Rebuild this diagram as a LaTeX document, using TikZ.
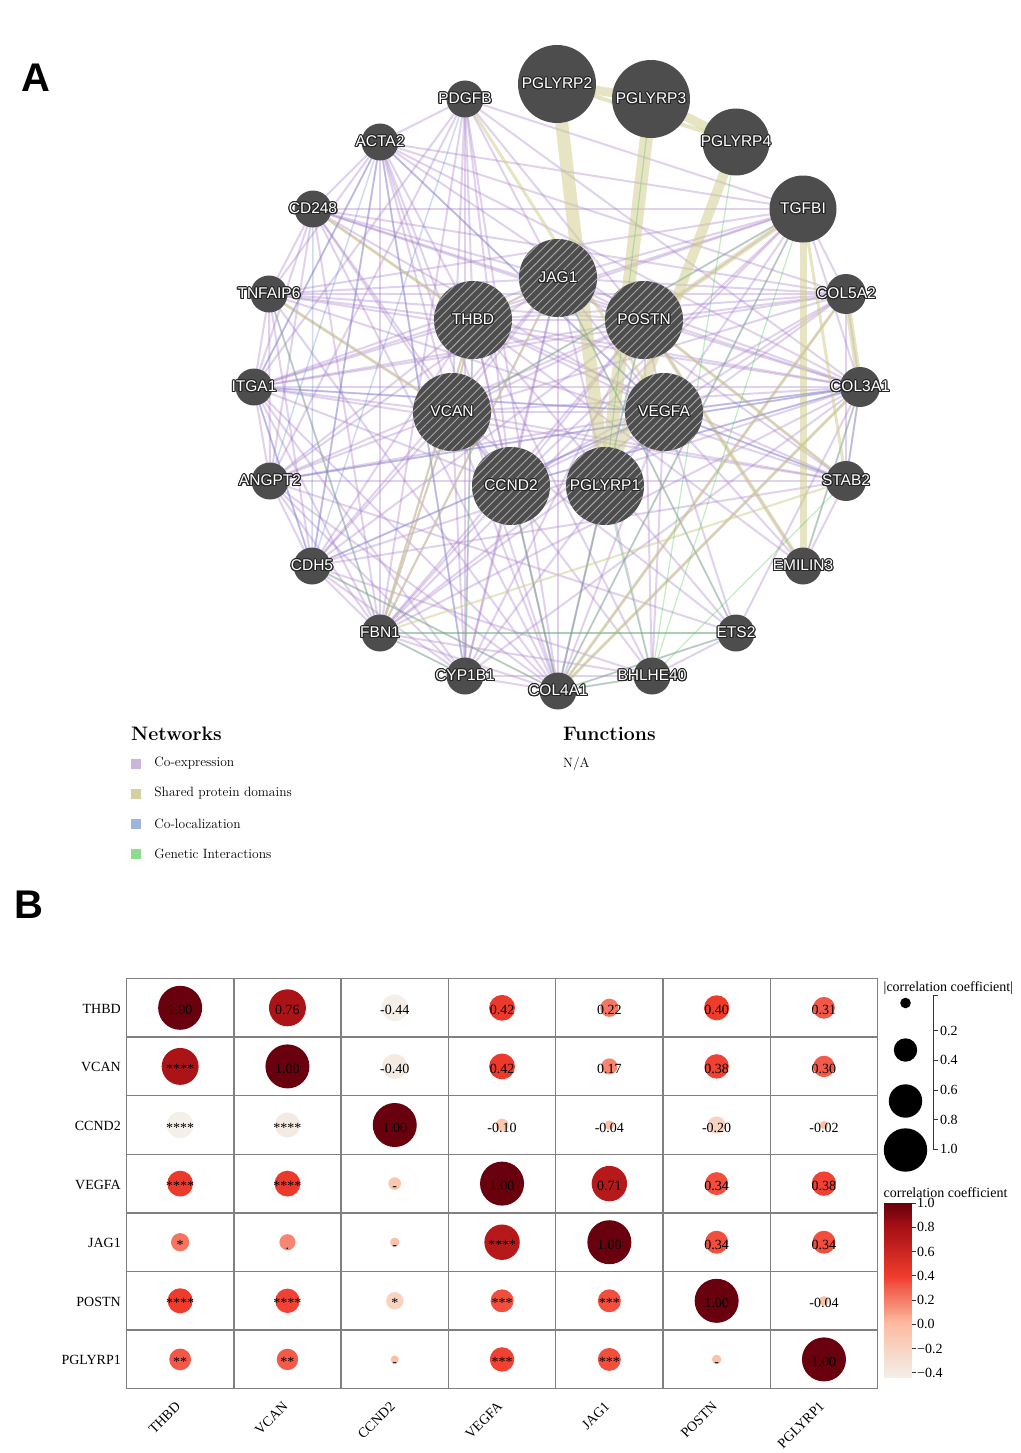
\documentclass[tikz,border=0pt]{standalone}
\usepackage{fontspec}
\usepackage{contour}
\usetikzlibrary{positioning,backgrounds,patterns.meta}
\newfontfamily\netfont{Liberation Sans}
\newfontfamily\corfont{Liberation Serif}
\definecolor{nodegray}{RGB}{77,77,77}
\definecolor{coexpc}{RGB}{165,125,200}
\definecolor{domainc}{RGB}{209,205,145}
\definecolor{colocc}{RGB}{100,130,205}
\definecolor{geneticc}{RGB}{80,200,80}
\definecolor{cCream}{RGB}{244,239,232}
\definecolor{cSalmon}{RGB}{252,187,161}
\definecolor{cRed}{RGB}{239,59,44}
\definecolor{cDark}{RGB}{165,15,21}
\definecolor{cDeep}{RGB}{103,0,13}
\contourlength{1.1pt}
\newcommand{\glabel}[1]{\contour{black!85}{#1}}
% colour of a correlation value, stored in cc
\newcommand{\setcorcolor}[1]{%
  \pgfmathsetmacro\cv{#1}%
  \ifdim\cv pt<0pt
    \pgfmathtruncatemacro\cp{100*(\cv+0.44)/0.44}\colorlet{cc}{cSalmon!\cp!cCream}%
  \else\ifdim\cv pt<0.4pt
    \pgfmathtruncatemacro\cp{100*\cv/0.4}\colorlet{cc}{cRed!\cp!cSalmon}%
  \else\ifdim\cv pt<0.8pt
    \pgfmathtruncatemacro\cp{100*(\cv-0.4)/0.4}\colorlet{cc}{cDark!\cp!cRed}%
  \else
    \pgfmathtruncatemacro\cp{100*(\cv-0.8)/0.2}\colorlet{cc}{cDeep!\cp!cDark}%
  \fi\fi\fi}

\begin{document}
\begin{tikzpicture}[x=1pt,y=-1pt]
    \tikzstyle{gene}=[circle,fill=nodegray,minimum size=37pt,inner sep=0pt]
    \tikzstyle{wide gene}=[gene,minimum size=40pt]
    \tikzstyle{mid gene}=[gene,minimum size=67pt]
    \tikzstyle{big gene}=[gene,minimum size=78pt]
    \tikzstyle{query gene}=[big gene,postaction={pattern={Lines[angle=45,distance=6pt,line width=0.9pt]},pattern color=gray!70}]
    \tikzstyle{gene label}=[text=white,inner sep=0pt,font=\netfont\fontsize{15.5}{16}\selectfont]
    \tikzstyle{coexp}=[draw=coexpc,line width=2pt,opacity=0.35]
    \tikzstyle{shared domain}=[draw=domainc,opacity=0.55]
    \tikzstyle{coloc}=[draw=colocc,line width=1.5pt,opacity=0.3]
    \tikzstyle{genetic}=[draw=geneticc,line width=1.2pt,opacity=0.35]
    \tikzstyle{legend box}=[minimum size=10pt,inner sep=0pt]
    \tikzstyle{legend text}=[inner sep=0pt,anchor=west,font=\fontsize{13.5}{15}\selectfont]
    \tikzstyle{legend head}=[inner sep=0pt,anchor=base west,font=\bfseries\fontsize{19.5}{22}\selectfont]
    \tikzstyle{cor text}=[inner sep=0pt,font=\corfont\fontsize{14}{16}\selectfont]
    \useasboundingbox (0,0) rectangle (1020,1453);

    % panel letters
    \node[font=\netfont\bfseries\fontsize{40}{40}\selectfont] (P_A) at (36,78) {A};
    \node[font=\netfont\bfseries\fontsize{40}{40}\selectfont] (P_B) at (29,905) {B};

    % network
    \node[gene, label={[gene label]center:\glabel{PDGFB}}] (G_PDGFB) at (465,99) {};
    \node[big gene, label={[gene label]center:\glabel{PGLYRP2}}] (G_PGLYRP2) at (557,84) {};
    \node[big gene, label={[gene label]center:\glabel{PGLYRP3}}] (G_PGLYRP3) at (651,99) {};
    \node[mid gene, label={[gene label]center:\glabel{PGLYRP4}}] (G_PGLYRP4) at (736,142) {};
    \node[gene, label={[gene label]center:\glabel{ACTA2}}] (G_ACTA2) at (380,142) {};
    \node[gene, label={[gene label]center:\glabel{CD248}}] (G_CD248) at (313,209) {};
    \node[mid gene, label={[gene label]center:\glabel{TGFBI}}] (G_TGFBI) at (803,209) {};
    \node[gene, label={[gene label]center:\glabel{TNFAIP6}}] (G_TNFAIP6) at (269,294) {};
    \node[wide gene, label={[gene label]center:\glabel{COL5A2}}] (G_COL5A2) at (846,294) {};
    \node[query gene, label={[gene label]center:\glabel{JAG1}}] (G_JAG1) at (558,278) {};
    \node[query gene, label={[gene label]center:\glabel{THBD}}] (G_THBD) at (473,320) {};
    \node[query gene, label={[gene label]center:\glabel{POSTN}}] (G_POSTN) at (644,320) {};
    \node[gene, label={[gene label]center:\glabel{ITGA1}}] (G_ITGA1) at (254,387) {};
    \node[wide gene, label={[gene label]center:\glabel{COL3A1}}] (G_COL3A1) at (860,387) {};
    \node[query gene, label={[gene label]center:\glabel{VCAN}}] (G_VCAN) at (452,412) {};
    \node[query gene, label={[gene label]center:\glabel{VEGFA}}] (G_VEGFA) at (664,412) {};
    \node[gene, label={[gene label]center:\glabel{ANGPT2}}] (G_ANGPT2) at (270,481) {};
    \node[wide gene, label={[gene label]center:\glabel{STAB2}}] (G_STAB2) at (846,481) {};
    \node[query gene, label={[gene label]center:\glabel{CCND2}}] (G_CCND2) at (511,486) {};
    \node[query gene, label={[gene label]center:\glabel{PGLYRP1}}] (G_PGLYRP1) at (605,486) {};
    \node[gene, label={[gene label]center:\glabel{CDH5}}] (G_CDH5) at (312,566) {};
    \node[gene, label={[gene label]center:\glabel{EMILIN3}}] (G_EMILIN3) at (803,566) {};
    \node[gene, label={[gene label]center:\glabel{FBN1}}] (G_FBN1) at (380,633) {};
    \node[gene, label={[gene label]center:\glabel{ETS2}}] (G_ETS2) at (736,633) {};
    \node[gene, label={[gene label]center:\glabel{CYP1B1}}] (G_CYP1B1) at (465,676) {};
    \node[gene, label={[gene label]center:\glabel{BHLHE40}}] (G_BHLHE40) at (652,676) {};
    \node[gene, label={[gene label]center:\glabel{COL4A1}}] (G_COL4A1) at (558,691) {};

    \begin{scope}[on background layer]
    \foreach \a/\bs in {PDGFB/{ACTA2,THBD,VCAN,CCND2,COL4A1,CYP1B1,POSTN,COL3A1,ITGA1,FBN1,TGFBI,ANGPT2,JAG1},
        ACTA2/{CD248,VCAN,THBD,CCND2,POSTN,COL3A1,COL5A2,TGFBI,FBN1,CYP1B1,COL4A1,ITGA1,TNFAIP6,VEGFA,CDH5},
        CD248/{TNFAIP6,ITGA1,ANGPT2,THBD,VCAN,JAG1,POSTN,COL3A1,COL5A2,FBN1,COL4A1,CCND2,VEGFA,TGFBI},
        TNFAIP6/{ITGA1,VCAN,THBD,POSTN,COL5A2,COL3A1,STAB2,CDH5,FBN1,COL4A1,JAG1,TGFBI,ANGPT2},
        ITGA1/{ANGPT2,THBD,VCAN,POSTN,COL3A1,COL5A2,VEGFA,JAG1,FBN1,COL4A1,CYP1B1,CDH5,STAB2,TGFBI,CCND2},
        ANGPT2/{CDH5,VCAN,THBD,POSTN,COL4A1,FBN1,VEGFA,COL3A1,STAB2,ETS2,CYP1B1,JAG1},
        CDH5/{FBN1,VCAN,COL4A1,CYP1B1,VEGFA,JAG1,THBD,POSTN,BHLHE40,STAB2,COL3A1},
        FBN1/{CYP1B1,COL4A1,VCAN,CCND2,POSTN,VEGFA,JAG1,COL3A1,COL5A2,TGFBI,THBD,BHLHE40,ETS2},
        CYP1B1/{COL4A1,VCAN,CCND2,THBD,JAG1,POSTN,VEGFA,BHLHE40,COL3A1},
        COL4A1/{VCAN,THBD,CCND2,JAG1,POSTN,VEGFA,BHLHE40,ETS2,COL3A1,COL5A2,TGFBI,PGLYRP1},
        BHLHE40/{ETS2,VEGFA,POSTN,JAG1,THBD,VCAN},
        ETS2/{VEGFA,COL3A1,THBD,VCAN,JAG1},
        EMILIN3/{COL3A1,STAB2,VEGFA,POSTN,THBD},
        STAB2/{COL3A1,VEGFA,POSTN,THBD,VCAN,JAG1,COL5A2},
        COL3A1/{COL5A2,TGFBI,POSTN,VEGFA,JAG1,THBD,VCAN,CCND2},
        COL5A2/{TGFBI,POSTN,THBD,VCAN,JAG1,VEGFA,CCND2},
        TGFBI/{POSTN,JAG1,THBD,VCAN,VEGFA,CCND2},
        JAG1/{THBD,VCAN,VEGFA,CCND2,POSTN},
        THBD/{VCAN,VEGFA,CCND2,POSTN},
        VCAN/{VEGFA,CCND2,POSTN},
        POSTN/{VEGFA,CCND2},
        VEGFA/{CCND2}}
      \foreach \b in \bs
        \draw[coexp] (G_\a.center) -- (G_\b.center);
    \foreach \a/\b/\w in {PGLYRP2/PGLYRP3/9,PGLYRP3/PGLYRP4/9,PGLYRP2/PGLYRP4/4,PGLYRP2/PGLYRP1/13,
        PGLYRP3/PGLYRP1/13,PGLYRP4/PGLYRP1/10,TGFBI/EMILIN3/7,POSTN/EMILIN3/4,TGFBI/POSTN/5,
        STAB2/POSTN/3,STAB2/TGFBI/3,COL5A2/COL3A1/6,COL3A1/COL4A1/3,COL5A2/COL4A1/3,PDGFB/VEGFA/3,
        JAG1/THBD/2,JAG1/FBN1/2,THBD/FBN1/2,VCAN/THBD/2,VCAN/FBN1/2,TNFAIP6/VCAN/3,CD248/THBD/3,STAB2/FBN1/2}
      \draw[shared domain, line width=\w pt] (G_\a.center) -- (G_\b.center);
    \foreach \a/\b in {ACTA2/ITGA1,ACTA2/CDH5,ACTA2/ANGPT2,ACTA2/VEGFA,ACTA2/CYP1B1,ITGA1/CDH5,
        ANGPT2/COL3A1,CD248/CDH5,VEGFA/ITGA1,COL3A1/VEGFA,COL3A1/CCND2,CDH5/VEGFA,PDGFB/CDH5,
        STAB2/VEGFA,COL3A1/STAB2}
      \draw[coloc] (G_\a.center) -- (G_\b.center);
    \foreach \a/\b in {PGLYRP3/PGLYRP1,PGLYRP4/BHLHE40,TGFBI/BHLHE40,TGFBI/COL4A1,STAB2/BHLHE40,
        COL3A1/EMILIN3,ETS2/COL4A1,BHLHE40/COL4A1,FBN1/CYP1B1,CDH5/COL4A1,PGLYRP1/BHLHE40,
        TNFAIP6/FBN1,CCND2/COL4A1,FBN1/ETS2,JAG1/ETS2,THBD/CYP1B1,TGFBI/VCAN,POSTN/COL4A1}
      \draw[genetic] (G_\a.center) -- (G_\b.center);
    \end{scope}

    % network legend
    \node[legend head] (H_net) at (131,740) {Networks};
    \node[legend head] (H_fun) at (563,740) {Functions};
    \node[legend text, anchor=base west] (T_na) at (563,767.5) {N/A};
    \node[legend box, fill={rgb,255:red,205;green,180;blue,219}] (L_coexp) at (136,763.5) {};
    \node[legend box, fill={rgb,255:red,214;green,208;blue,160}] (L_domain) at (136,793.5) {};
    \node[legend box, fill={rgb,255:red,160;green,178;blue,222}] (L_coloc) at (136,823.5) {};
    \node[legend box, fill={rgb,255:red,140;green,220;blue,140}] (L_genetic) at (136,853.5) {};
    \node[legend text, right=13pt of L_coexp] {Co-expression};
    \node[legend text, right=13pt of L_domain] {Shared protein domains};
    \node[legend text, right=13pt of L_coloc] {Co-localization};
    \node[legend text, right=13pt of L_genetic] {Genetic Interactions};

    % correlation matrix
    \foreach \gname/\cells [count=\r from 0] in {
        THBD/{1.00/1.00,0.76/0.76,-0.44/-0.44,0.42/0.42,0.22/0.22,0.40/0.40,0.31/0.31},
        VCAN/{0.76/****,1.00/1.00,-0.40/-0.40,0.42/0.42,0.17/0.17,0.38/0.38,0.30/0.30},
        CCND2/{-0.44/****,-0.40/****,1.00/1.00,-0.10/-0.10,-0.04/-0.04,-0.20/-0.20,-0.02/-0.02},
        VEGFA/{0.42/****,0.42/****,-0.10/-,1.00/1.00,0.71/0.71,0.34/0.34,0.38/0.38},
        JAG1/{0.22/*,0.17/.,-0.04/-,0.71/****,1.00/1.00,0.34/0.34,0.34/0.34},
        POSTN/{0.40/****,0.38/****,-0.20/*,0.34/***,0.34/***,1.00/1.00,-0.04/-0.04},
        PGLYRP1/{0.31/**,0.30/**,-0.02/-,0.38/***,0.34/***,-0.04/-,1.00/1.00}} {
      \pgfmathsetmacro\ry{978.5+58.6*(\r+0.5)}
      \node[cor text, anchor=east] (R_\gname) at (121,\ry+1) {\gname};
      \pgfmathsetmacro\cx{126.5+107.3*(\r+0.5)}
      \node[cor text, rotate=45, anchor=east] (C_\gname) at (\cx-2,1404) {\gname};
      \foreach \v/\t [count=\c from 0] in \cells {
        \pgfmathsetmacro\cx{126.5+107.3*(\c+0.5)}
        \pgfmathsetmacro\rad{3+19*pow(abs(\v),0.75)}
        \setcorcolor{\v}
        \fill[cc] (\cx,\ry) circle[radius=\rad pt];
        \node[cor text, anchor=base] at (\cx,\ry+7) {\t};
      }
    }
    \draw[gray, line width=1.4pt] (126.5,978.5) rectangle (877.6,1388.7);
    \foreach \i in {1,...,6} {
      \draw[gray, line width=1.4pt] (126.5+107.3*\i,978.5) -- (126.5+107.3*\i,1388.7);
      \draw[gray, line width=1.4pt] (126.5,978.5+58.6*\i) -- (877.6,978.5+58.6*\i);
    }

    % size legend
    \node[cor text, anchor=west] (S_title) at (883.5,988) {|correlation coefficient|};
    \foreach \y/\s in {1003/5.3,1050/11.7,1101/16.7,1150/21.7}
      \fill[black] (905.5,\y) circle[radius=\s pt];
    \draw[black!80, line width=0.8pt] (938,995) -- (933,995) -- (933,1149.4) -- (938,1149.4);
    \foreach \y/\l in {1030.5/0.2,1060.2/0.4,1090/0.6,1119.7/0.8,1149.4/1.0} {
      \draw[black!80, line width=0.8pt] (933,\y) -- (938,\y);
      \node[cor text, anchor=west] at (940,\y) {\l};
    }

    % colour bar
    \foreach \i in {0,...,89} {
      \pgfmathsetmacro\bv{-0.44+1.44*(\i+0.5)/90}
      \setcorcolor{\bv}
      \pgfmathsetmacro\by{1377.5-174.5*\i/90}
      \fill[cc] (883.5,\by) rectangle (911.5,\by-2.1);
    }
    \node[cor text, anchor=west] (B_title) at (883.5,1193) {correlation coefficient};
    \foreach \v/\l in {1.0/1.0,0.8/0.8,0.6/0.6,0.4/0.4,0.2/0.2,0.0/0.0,-0.2/−0.2,-0.4/−0.4} {
      \draw[black!80, line width=0.8pt] (911.5,1203+121.2*1-121.2*\v) -- (915.5,1203+121.2*1-121.2*\v);
      \node[cor text, anchor=west] at (917,1203+121.2-121.2*\v) {\l};
    }
\end{tikzpicture}
\end{document}
